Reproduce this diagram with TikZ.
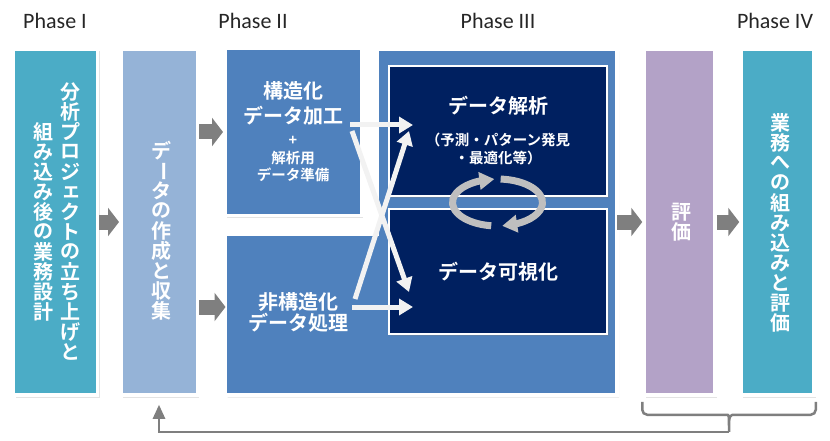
\documentclass[tikz,border=0pt]{standalone}
\usepackage{fontspec}
\usepackage{graphicx}
\usetikzlibrary{arrows.meta,bending,calc,shadows}
\newfontfamily\latinfont{Carlito}
\newfontfamily\jpfont{Noto Sans CJK JP}[UprightFont=* Bold]
\newcommand\jpbig{\jpfont\fontsize{20}{25}\selectfont}
\newcommand\jpsmall{\jpfont\fontsize{14.5}{17}\selectfont}
\newcommand\jpvert{\jpfont\fontsize{20}{20}\selectfont}
% vertical (tate) columns: one glyph per em, long bar turned upright
\makeatletter
\def\tate@bar{ー}
\newcommand\tate@one[1]{%
  \def\tate@item{#1}%
  \hbox to 1em{\hss\vbox to 1em{\vss\hbox{%
    \ifx\tate@item\tate@bar\rotatebox[origin=c]{-90}{#1}%
    \else\in@{#1}{ァィゥェォッャュョ}%
      \ifin@\kern.08em#1\kern-.08em\else#1\fi
    \fi}\vss}\hss}}
\newcommand\tatecol[1]{\vbox{\offinterlineskip
  \@tfor\tate@c:=#1\do{\expandafter\tate@one\expandafter{\tate@c}}}}
\newcommand\tatetwo[2]{$\vcenter{\tatecol{#2}}\kern6pt\vcenter{\tatecol{#1}}$}
\makeatother
\definecolor{aquabox}{HTML}{4BACC6}
\definecolor{lightblue}{HTML}{95B3D7}
\definecolor{midblue}{HTML}{4F81BD}
\definecolor{navybox}{HTML}{002060}
\definecolor{lilac}{HTML}{B3A2C7}
\definecolor{arrowgrey}{HTML}{7F7F7F}
\definecolor{flowwhite}{HTML}{F2F2F2}
\tikzset{
  phase label/.style={font=\latinfont\fontsize{22}{22}\selectfont,
    text=black!85,anchor=base},
  stage box/.style={rectangle,draw=white,line width=3.5pt,inner sep=0pt,
    drop shadow={opacity=0.22,shadow xshift=2pt,shadow yshift=-2.5pt}},
  process area/.style={fill=midblue,draw=white,line width=3.5pt,
    drop shadow={opacity=0.22,shadow xshift=2pt,shadow yshift=-2.5pt}},
  task box/.style={rectangle,draw=white,line width=2pt,fill=navybox,
    inner sep=0pt,text=white,align=center,font=\jpbig,
    drop shadow={opacity=0.3,shadow xshift=1.5pt,shadow yshift=-1.5pt}},
  stage text/.style={text=white,align=center,font=\jpbig,inner sep=0pt},
  vertical label/.style={text=white,font=\jpvert,inner sep=0pt},
  stage arrow/.style={arrowgrey,line width=15pt,
    -{Triangle[length=11pt,width=28pt]}},
  flow arrow/.style={flowwhite,line width=5pt,
    -{Triangle[length=14pt,width=16pt]}},
  cycle arrow/.style={black!25,line width=7pt,
    -{Triangle[length=15pt,width=17pt]}},
  feedback line/.style={arrowgrey,line width=2.5pt}
}
\begin{document}
\begin{tikzpicture}[x=1pt,y=-1pt]
  \useasboundingbox (0,0) rectangle (830,441);
  % phase headings
  \node[phase label] (phase1) at (55,29) {Phase I};
  \node[phase label] (phase2) at (253,29) {Phase II};
  \node[phase label] (phase3) at (498,29) {Phase III};
  \node[phase label] (phase4) at (775,29) {Phase IV};
  % phase I / II columns
  \node[stage box,fill=aquabox,minimum width=84pt,minimum height=346pt]
    (plan) at (55.5,222) {};
  \node[vertical label] (plan text) at (57,222)
    {\tatetwo{分析プロジェクトの立ち上げと}{組み込み後の業務設計}};
  \node[stage box,fill=lightblue,minimum width=76.5pt,minimum height=346pt]
    (collect) at (159,222) {};
  \node[vertical label] (collect text) at (161,231) {\tatecol{データの作成と収集}};
  % processing area
  \path[process area] (377.5,49) -- (617,49) -- (617,395) -- (225.5,395)
    -- (225.5,234) -- (377.5,234) -- cycle;
  \node[stage box,fill=midblue,minimum width=136.5pt,minimum height=166.5pt,
    text=white,align=center,font=\jpbig] (struct) at (293,132)
    {構造化\\データ加工\\[-3pt]{\jpsmall +}\\[-7pt]{\jpsmall 解析用}\\[-8pt]%
     {\jpsmall データ準備}};
  \node[stage text] (unstruct) at (298,312) {非構造化\\[-4pt]データ処理};
  \coordinate (procwest) at (225.5,307);
  \coordinate (proceast) at (617,222);
  \node[task box,minimum width=218pt,minimum height=130pt] (analysis)
    at (498,131) {データ解析\\[7pt]{\jpsmall （予測・パターン発見}\\[-7pt]%
    {\jpsmall ・最適化等）}};
  \node[task box,minimum width=218pt,minimum height=125pt] (visual)
    at (498,271.5) {データ可視化};
  % phase IV columns
  \node[stage box,fill=lilac,minimum width=71pt,minimum height=346pt]
    (eval) at (679.5,222) {};
  \node[vertical label] (eval text) at (681,222) {\tatecol{評価}};
  \node[stage box,fill=aquabox,minimum width=73pt,minimum height=346pt]
    (deploy) at (777.5,222) {};
  \node[vertical label] (deploy text) at (780,223)
    {\tatecol{業務への組み込みと評価}};
  % grey arrows between stages
  \draw[stage arrow] (plan.east) -- (collect.west);
  \draw[stage arrow] (collect.east |- struct.west) -- (struct.west);
  \draw[stage arrow] (collect.east |- procwest) -- (procwest);
  \draw[stage arrow] (proceast) -- (eval.west);
  \draw[stage arrow] (eval.east) -- (deploy.west);
  % data flows into analysis and visualisation
  \coordinate (structout) at (350,125);
  \coordinate (structdiag) at (352,131);
  \coordinate (unstructdiag) at (355,299);
  \coordinate (unstructout) at (352,307);
  \coordinate (analysisin) at (413,125);
  \coordinate (analysisdiag) at (409,131);
  \coordinate (visualdiag) at (409,292);
  \coordinate (visualin) at (413,307);
  \foreach \from/\to in {structout/analysisin,structdiag/visualdiag,
      unstructdiag/analysisdiag,unstructout/visualin}
    \draw[flow arrow] (\from) -- (\to);
  % loop between analysis and visualisation
  \coordinate (loop) at (497.5,202.5);
  \draw[cycle arrow] ([shift={(262:45pt and 23.5pt)}]loop)
    arc[start angle=262,end angle=94,x radius=45pt,y radius=23.5pt];
  \draw[cycle arrow] ([shift={(86:45pt and 23.5pt)}]loop)
    arc[start angle=86,end angle=-84,x radius=45pt,y radius=23.5pt];
  % bracket under phase IV and feedback
  \coordinate (braceleft) at ([yshift=-5pt]eval.south west);
  \coordinate (braceright) at ([yshift=-5pt]deploy.south east);
  \coordinate (bracetip) at ($(braceleft)!0.5!(braceright)+(0,30)$);
  \draw[feedback line] (braceleft) [rounded corners=5pt]
    |- ($(bracetip)+(-7,-17)$) [sharp corners]
    .. controls ($(bracetip)+(0,-17)$) .. (bracetip)
    .. controls ($(bracetip)+(0,-17)$) .. ($(bracetip)+(7,-17)$)
    [rounded corners=5pt] -| (braceright);
  \draw[feedback line,-{Triangle[length=14pt,width=12pt]}]
    (bracetip) -| ([yshift=-8pt]collect.south);
\end{tikzpicture}
\end{document}
